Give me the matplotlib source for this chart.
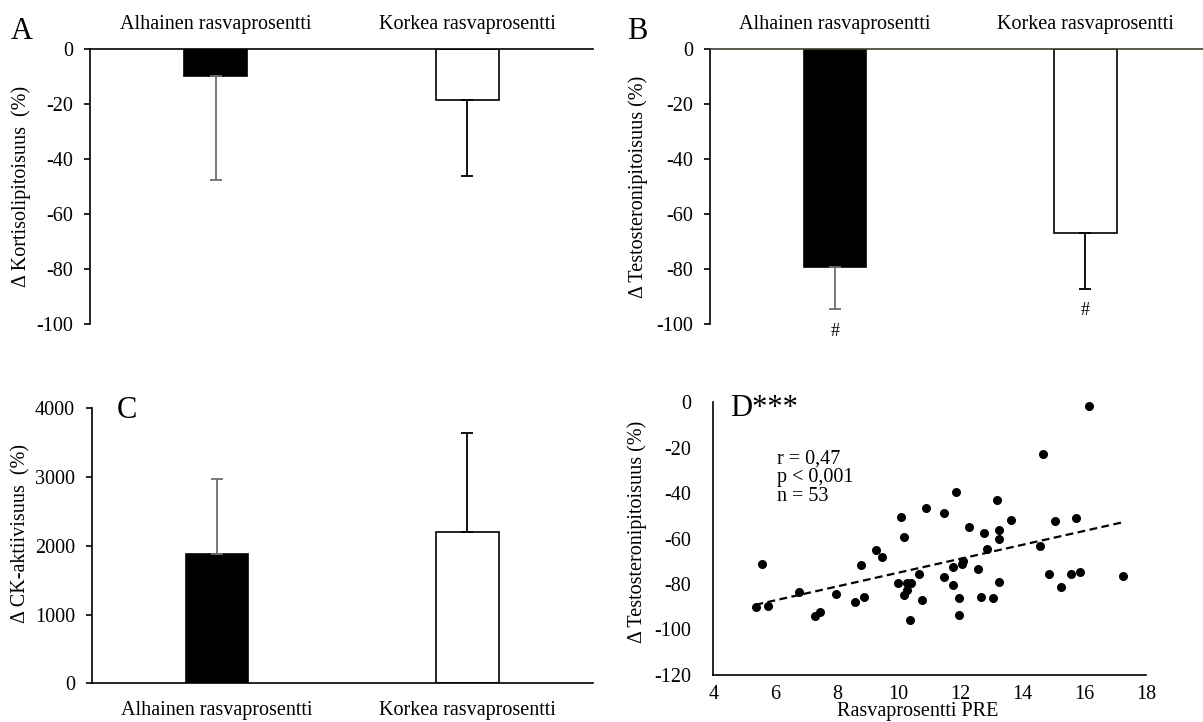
import matplotlib
matplotlib.use("Agg")
import matplotlib.pyplot as plt
import numpy as np

plt.rcParams['font.family'] = ['Liberation Serif', 'DejaVu Serif']
plt.rcParams['font.size'] = 14.5
plt.rcParams['axes.unicode_minus'] = False

# ryhmät
ryhmat = ['Alhainen rasvaprosentti', 'Korkea rasvaprosentti']
bar_colors = ['black', 'white']
err_colors = ['#6e6e6e', 'black']

# A: kortisoli (%), keskiarvo ja SD
kortisoli = [-9.7, -18.5]
kortisoli_sd = [37.9, 27.5]

# B: testosteroni (%)
testosteroni = [-79.1, -67.0]
testosteroni_sd = [15.6, 20.1]
merkit = ['#', '#']

# C: CK-aktiivisuus (%)
ck = [1876, 2205]
ck_sd = [1091, 1431]

# D: rasvaprosentti PRE vs. testosteronin muutos
rasva = [5.58, 5.37, 5.78, 6.76, 7.28, 7.46, 7.97, 8.58, 8.87, 8.77,
         9.27, 9.47, 11.86, 13.17, 10.06, 10.87, 11.48, 13.63, 12.27, 12.76,
         13.26, 13.26, 10.16, 12.87, 12.09, 12.05, 11.77, 12.57, 10.66, 9.97,
         10.28, 10.39, 10.26, 10.17, 11.47, 11.77, 13.26, 10.76, 11.96, 12.65,
         13.06, 10.37, 11.96, 16.16, 14.66, 15.06, 15.75, 14.56, 14.85, 15.57,
         15.87, 17.26, 15.26]
testo_muutos = [-71.1, -90.0, -89.6, -83.4, -94.1, -92.3, -84.4, -88.1, -85.7, -71.6,
                -65.1, -68.0, -39.6, -43.2, -50.4, -46.7, -49.0, -51.8, -54.9, -57.8,
                -56.2, -60.3, -59.4, -64.7, -69.9, -71.2, -72.6, -73.4, -75.4, -79.6,
                -79.6, -79.6, -82.5, -84.7, -77.1, -80.3, -79.3, -87.2, -86.3, -85.9,
                -86.3, -95.8, -93.5, -1.8, -22.8, -52.4, -51.1, -63.1, -75.6, -75.6,
                -74.6, -76.4, -81.5]

fig = plt.figure(figsize=(12.03, 7.22), dpi=100)
axA = fig.add_axes([0.0748, 0.5512, 0.4181, 0.3805])
axB = fig.add_axes([0.5902, 0.5512, 0.4098, 0.3805])
axC = fig.add_axes([0.0762, 0.0536, 0.4165, 0.3809])
axD = fig.add_axes([0.5929, 0.0651, 0.3597, 0.3781])

x = np.arange(len(ryhmat))
w = 0.25


def bar_panel(ax, vals, sds, down=True):
    for i in range(len(vals)):
        ax.bar(x[i], vals[i], width=w, color=bar_colors[i], edgecolor='black',
               linewidth=1.2, zorder=2)
        yerr = [[sds[i]], [0]] if down else [[0], [sds[i]]]
        ax.errorbar(x[i], vals[i], yerr=yerr, fmt='none', ecolor=err_colors[i],
                    elinewidth=1.3, capsize=4, capthick=1.3, zorder=3)
    ax.set_xticks(x)
    ax.set_xticklabels(ryhmat)
    ax.spines['right'].set_visible(False)
    for s in ax.spines.values():
        s.set_linewidth(1.2)
    ax.tick_params(axis='y', direction='out', length=4, width=1.2, pad=8)
    ax.tick_params(axis='x', length=0)


# A
bar_panel(axA, kortisoli, kortisoli_sd)
axA.set_xlim(-0.5, 1.5)
axA.set_ylim(-100, 0)
axA.set_yticks(np.arange(-100, 1, 20))
axA.spines['bottom'].set_visible(False)
axA.xaxis.tick_top()
axA.tick_params(axis='x', pad=11)
axA.set_ylabel('Δ Kortisolipitoisuus  (%)')
axA.yaxis.set_label_coords(-0.118, 0.5)

# B
bar_panel(axB, testosteroni, testosteroni_sd)
axB.set_xlim(-0.5, 1.47)
axB.set_ylim(-100, 0)
axB.set_yticks(np.arange(-100, 1, 20))
axB.spines['bottom'].set_visible(False)
axB.spines['top'].set_color('#3f3f30')
axB.xaxis.tick_top()
axB.tick_params(axis='x', pad=11)
axB.set_ylabel('Δ Testosteronipitoisuus (%)')
axB.yaxis.set_label_coords(-0.126, 0.5)
for i in range(len(testosteroni)):
    axB.text(x[i], testosteroni[i] - testosteroni_sd[i] - 8, merkit[i],
             ha='center', va='center', fontsize=13, clip_on=False)

# C
bar_panel(axC, ck, ck_sd, down=False)
axC.set_xlim(-0.5, 1.5)
axC.set_ylim(0, 4000)
axC.set_yticks(np.arange(0, 4001, 1000))
axC.spines['top'].set_visible(False)
axC.tick_params(axis='x', pad=13)
axC.set_ylabel('Δ CK-aktiivisuus  (%)')
axC.yaxis.set_label_coords(-0.123, 0.543)

# D
axD.scatter(rasva, testo_muutos, s=30, color='black', zorder=3)
k, b = np.polyfit(rasva, testo_muutos, 1)
xx = np.array([min(rasva), max(rasva)])
axD.plot(xx, k * xx + b, color='black', linestyle=(0, (3.5, 2)), linewidth=1.6)
axD.set_xlim(4, 18)
axD.set_ylim(-120, 0)
axD.set_xticks(np.arange(4, 19, 2))
axD.set_yticks(np.arange(-120, 1, 20))
axD.spines['right'].set_visible(False)
axD.spines['top'].set_visible(False)
for s in axD.spines.values():
    s.set_linewidth(1.2)
axD.tick_params(axis='both', length=0)
axD.tick_params(axis='y', pad=16)
axD.tick_params(axis='x', pad=7)
axD.set_xlabel('Rasvaprosentti PRE')
axD.xaxis.set_label_coords(0.473, -0.1)
axD.set_ylabel('Δ Testosteronipitoisuus (%)')
axD.yaxis.set_label_coords(-0.152, 0.524)
axD.text(0.039, 0.978, 'D***', transform=axD.transAxes, fontsize=22,
         ha='left', va='center')
axD.text(0.147, 0.792, 'r = 0,47', transform=axD.transAxes, ha='left', va='center')
axD.text(0.147, 0.723, 'p < 0,001', transform=axD.transAxes, ha='left', va='center')
axD.text(0.147, 0.655, 'n = 53', transform=axD.transAxes, ha='left', va='center')

# paneelikirjaimet
fig.text(0.0183, 0.9557, 'A', fontsize=22, ha='center', va='center')
fig.text(0.530, 0.9557, 'B', fontsize=22, ha='center', va='center')
fig.text(0.1056, 0.432, 'C', fontsize=22, ha='center', va='center')

fig.savefig('out.png', dpi=100)
